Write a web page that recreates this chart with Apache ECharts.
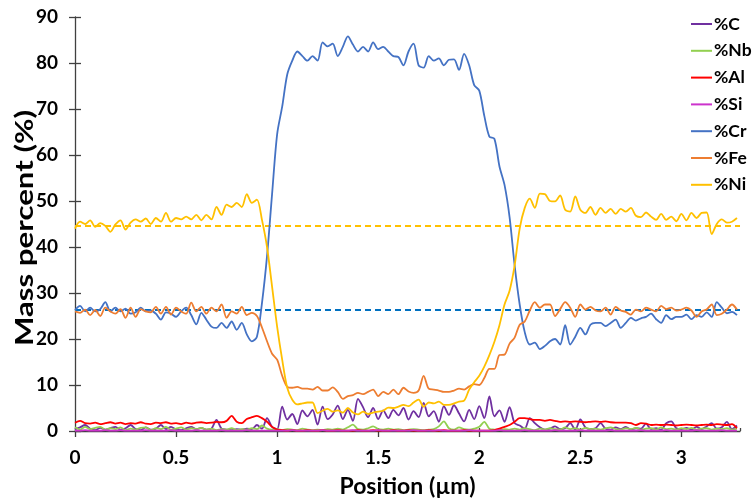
<!DOCTYPE html>
<html><head><meta charset="utf-8">
<script src="https://cdn.jsdelivr.net/npm/echarts@6/dist/echarts.min.js"></script>
<style>html,body{margin:0;padding:0;background:#fff}#c{width:752px;height:498px}</style>
</head><body><div id="c"></div>
<script>
const positions = [
0,0.025,0.05,0.075,0.1,0.125,0.15,0.175,
0.2,0.225,0.25,0.275,0.3,0.325,0.35,0.375,
0.4,0.425,0.45,0.475,0.5,0.525,0.55,0.575,
0.6,0.625,0.65,0.675,0.7,0.725,0.75,0.775,
0.8,0.825,0.85,0.875,0.9,0.925,0.95,0.975,
1.0,1.025,1.05,1.075,1.1,1.125,1.15,1.175,
1.2,1.225,1.25,1.275,1.3,1.325,1.35,1.375,
1.4,1.425,1.45,1.475,1.5,1.525,1.55,1.575,
1.6,1.625,1.65,1.675,1.7,1.725,1.75,1.775,
1.8,1.825,1.85,1.875,1.9,1.925,1.95,1.975,
2.0,2.025,2.05,2.075,2.1,2.125,2.15,2.175,
2.2,2.225,2.25,2.275,2.3,2.325,2.35,2.375,
2.4,2.425,2.45,2.475,2.5,2.525,2.55,2.575,
2.6,2.625,2.65,2.675,2.7,2.725,2.75,2.775,
2.8,2.825,2.85,2.875,2.9,2.925,2.95,2.975,
3.0,3.025,3.05,3.075,3.1,3.125,3.15,3.175,
3.2,3.225,3.25,3.275];

const pctC = [
0.4,0.8,1.3,0.5,0.2,0.7,0.3,0.6,
0.9,0.3,0.6,1.3,0.4,0.2,0.8,0.3,
0.5,1.3,0.4,0.9,0.3,0.2,0.6,0.9,
0.4,0.7,0.3,0.5,2.4,0.5,0.3,0.2,
0.4,0.3,0.5,0.4,1.3,0.5,2.8,0.9,
0.4,5.3,2.5,3.7,1.5,4.5,3.2,4.6,
1.4,5.3,2.6,3.6,5.5,2.6,4.6,2.2,
7.0,5.2,3.0,5.0,2.6,4.5,2.8,4.6,
3.4,5.0,2.5,4.3,3.0,6.1,3.2,4.3,
2.0,5.4,3.5,5.6,3.8,2.1,4.6,2.6,
5.4,2.8,7.5,3.2,4.5,2.0,5.2,1.7,
1.2,0.5,2.8,1.7,0.8,0.3,0.5,1.0,
0.4,0.6,1.7,0.3,2.5,0.8,0.4,0.6,
1.7,0.5,0.3,0.8,0.4,0.9,0.3,0.6,
0.5,1.6,0.4,0.6,0.3,1.7,2.1,0.6,
0.4,0.7,0.3,0.9,0.4,1.0,1.7,0.5,
0.8,2.0,0.4,1.2];

const pctNb = [
0.8,0.3,0.9,0.4,0.7,0.9,0.3,0.6,
0.4,0.8,0.2,0.5,0.3,0.7,0.8,0.2,
0.6,0.4,0.9,0.3,0.5,0.8,0.3,0.6,
0.4,0.7,0.3,0.5,0.2,0.4,0.3,0.6,
0.2,0.4,0.3,0.6,0.4,1.2,0.5,0.3,
0.4,0.2,0.4,0.3,0.2,0.5,0.3,0.2,
0.3,0.2,0.4,0.3,0.5,0.3,0.8,1.4,
0.4,0.3,0.6,1.0,0.4,0.3,0.5,0.3,
0.4,0.2,0.3,0.4,0.3,0.2,0.3,0.4,
1.0,2.1,0.6,0.3,0.8,0.4,0.3,0.5,
0.9,2.0,0.5,0.3,0.2,0.4,0.3,0.5,
0.3,0.6,0.4,0.2,0.5,0.3,0.6,0.4,
0.3,0.8,0.4,0.6,0.3,0.7,0.4,0.5,
0.3,0.6,0.8,0.4,0.3,0.6,0.4,0.7,
0.3,0.5,0.6,0.3,0.8,0.4,0.5,0.3,
0.6,0.4,0.7,0.3,0.5,0.6,0.3,0.5,
0.4,0.6,0.3,0.5];

const pctAl = [
1.8,2.2,1.7,1.6,1.8,1.5,1.7,1.9,
1.6,1.8,1.5,1.7,1.6,1.9,1.6,1.5,
1.8,1.7,1.9,1.6,1.7,1.5,1.8,1.6,
1.8,1.9,1.7,1.8,2.0,1.9,2.2,3.3,
2.0,1.7,2.6,3.0,3.3,2.8,2.0,0.9,
0.3,0.2,0.1,0.2,0.1,0.1,0.2,0.1,
0.1,0.2,0.1,0.1,0.2,0.1,0.1,0.1,
0.2,0.1,0.1,0.2,0.1,0.1,0.1,0.2,
0.1,0.1,0.2,0.1,0.1,0.1,0.2,0.1,
0.1,0.2,0.1,0.1,0.1,0.2,0.1,0.1,
0.1,0.1,0.1,0.2,0.5,0.9,1.3,2.0,
2.8,2.8,2.6,2.4,2.4,2.2,2.4,2.2,
2.0,2.1,2.0,2.1,2.0,1.9,2.0,2.1,
2.0,2.1,1.9,1.8,1.8,1.8,1.7,1.3,
1.7,1.6,1.3,1.4,1.3,1.4,1.3,1.2,
1.3,1.4,1.3,1.2,1.3,1.4,1.3,1.5,
1.4,1.3,1.5,0.6];

const pctSi = [
0.1,0.1,0.2,0.1,0.1,0.1,0.2,0.1,
0.1,0.2,0.1,0.1,0.1,0.1,0.2,0.1,
0.1,0.1,0.1,0.2,0.1,0.1,0.1,0.1,
0.2,0.1,0.1,0.1,0.1,0.2,0.1,0.1,
0.1,0.1,0.2,0.1,0.1,0.1,0.1,0.1,
0.1,0.1,0.1,0.2,0.1,0.1,0.1,0.1,
0.1,0.2,0.1,0.1,0.1,0.1,0.1,0.2,
0.1,0.1,0.1,0.1,0.2,0.1,0.1,0.1,
0.1,0.1,0.1,0.2,0.1,0.1,0.1,0.1,
0.2,0.1,0.1,0.1,0.1,0.1,0.2,0.1,
0.1,0.1,0.1,0.1,0.2,0.1,0.1,0.1,
0.1,0.2,0.1,0.1,0.1,0.1,0.1,0.2,
0.1,0.1,0.1,0.1,0.2,0.1,0.1,0.1,
0.1,0.1,0.2,0.1,0.1,0.1,0.1,0.1,
0.2,0.1,0.1,0.1,0.1,0.2,0.1,0.1,
0.1,0.1,0.1,0.2,0.1,0.1,0.1,0.1,
0.2,0.1,0.1,0.1];

const pctCr = [
26.3,27.2,26.0,26.8,26.0,26.5,28.0,26.0,
26.8,26.0,26.6,25.5,25.8,26.8,26.0,26.2,
25.5,24.2,25.8,25.5,24.8,26.0,26.8,25.2,
23.2,25.7,24.2,22.7,22.4,23.5,22.4,23.8,
22.0,23.5,21.0,19.5,20.5,27.8,38.0,51.5,
64.5,70.5,77.5,80.5,82.5,81.5,80.5,81.5,
80.5,84.5,83.6,84.2,81.5,83.5,85.8,84.0,
82.5,83.5,82.5,84.5,83.0,83.5,82.5,81.5,
81.3,79.5,82.5,84.2,79.5,79.0,81.5,80.5,
81.0,79.5,80.7,80.8,78.5,82.0,79.5,75.2,
74.0,68.5,64.0,63.5,57.5,53.5,46.5,36.0,
27.5,21.5,18.8,19.2,17.8,18.5,19.5,20.0,
18.8,23.0,18.8,20.5,22.4,21.0,23.1,23.5,
23.5,22.8,23.5,24.2,22.4,23.5,24.6,24.0,
24.5,24.8,25.5,24.3,23.5,25.2,24.3,24.8,
24.8,25.3,24.3,25.2,24.8,25.8,24.8,28.0,
26.8,25.6,25.9,25.2];

const pctFe = [
26.0,25.7,26.4,25.2,26.3,25.0,26.8,26.0,
25.5,26.5,24.6,26.8,24.8,26.5,26.0,25.8,
27.0,25.5,27.0,25.3,26.8,26.0,25.5,27.9,
26.0,27.0,25.5,26.8,26.0,27.5,24.6,26.0,
25.5,27.0,25.2,25.7,25.0,22.5,19.5,16.8,
15.5,12.0,9.6,9.4,9.6,9.2,9.2,9.0,
9.6,8.8,8.8,9.5,8.5,7.0,7.6,7.8,
8.3,8.0,8.5,9.0,7.6,8.5,8.0,9.0,
8.0,9.4,8.6,8.3,8.8,12.0,9.2,9.0,
8.8,8.5,8.5,8.8,9.2,9.0,9.7,10.2,
10.0,11.5,13.5,13.5,16.5,16.6,19.0,20.3,
23.1,23.8,26.2,28.0,26.8,27.5,27.5,25.0,
26.5,28.0,26.8,24.8,27.5,26.4,27.0,26.2,
26.0,26.8,25.3,27.0,26.2,25.9,25.3,26.4,
26.0,26.8,26.4,26.0,27.2,26.5,26.8,26.2,
26.4,26.8,26.2,24.8,26.0,26.4,27.5,25.2,
25.5,26.4,27.5,26.4];

const pctNi = [
44.0,45.5,45.0,45.8,44.4,45.2,44.6,43.3,
44.9,45.8,43.8,45.3,46.0,45.5,46.2,45.0,
46.3,45.5,47.4,45.5,46.3,46.0,46.6,46.0,
47.0,45.8,47.0,46.0,48.7,47.0,49.2,48.7,
49.6,48.7,51.5,49.6,50.3,45.9,40.0,31.4,
22.7,15.5,9.4,6.8,5.8,6.0,6.2,6.2,
3.9,4.4,4.8,4.2,4.5,4.0,5.0,4.0,
3.6,4.2,3.7,4.0,4.2,4.4,5.1,5.0,
5.3,5.7,5.4,6.2,6.8,5.3,6.2,6.0,
6.4,5.7,5.7,6.0,6.4,6.6,9.0,10.6,
12.0,14.0,16.5,19.4,23.0,27.5,30.5,36.0,
44.0,48.5,50.5,48.5,51.6,51.5,50.0,49.9,
51.2,48.1,47.7,51.0,48.1,47.4,48.7,47.0,
48.5,47.4,48.3,47.2,48.3,47.7,48.5,46.8,
46.5,47.5,46.6,45.9,47.2,45.9,46.6,45.6,
47.2,45.8,47.4,46.3,47.4,47.5,42.8,45.0,
46.0,45.3,45.5,46.3];

const seriesNames = ['%C','%Nb','%Al','%Si','%Cr','%Fe','%Ni'];
const seriesColors = ['#7030A0','#92D050','#FF0000','#CC33CC','#4472C4','#ED7D31','#FFC000'];
const seriesValues = [pctC,pctNb,pctAl,pctSi,pctCr,pctFe,pctNi];
const meanNi = 44.7;
const meanCr = 26.3;
const xTicks = [0,0.5,1,1.5,2,2.5,3];
const yTitle = 'Mass percent (%)';

const FONT = 'Lato';
const chart = echarts.init(document.getElementById('c'));

const series = seriesNames.map((n,i)=>({
  name:n, type:'line', xAxisIndex:0, yAxisIndex:0,
  data: positions.map((x,j)=>[x, seriesValues[i][j]]),
  showSymbol:false, smooth:0.3,
  lineStyle:{width:1.8,color:seriesColors[i]}, itemStyle:{color:seriesColors[i]},
  z: 2+i
}));
series[6].markLine = {silent:true, symbol:'none', label:{show:false},
  lineStyle:{color:'#FFC000',type:[6,4],width:1.8}, data:[{yAxis:meanNi}]};
series[4].markLine = {silent:true, symbol:'none', label:{show:false},
  lineStyle:{color:'#0070C0',type:[6,4],width:1.8}, data:[{yAxis:meanCr}]};

const ax = {color:'#404040', width:1.3};
chart.setOption({
  animation:false,
  grid:{left:75,right:12,top:17,bottom:67,outerBoundsMode:'none',containLabel:false},
  graphic:[{
    type:'text', x:25, y:228, rotation:Math.PI/2, scaleX:1.3,
    style:{text:yTitle, font:'bold 24px Lato', fill:'#000', align:'center', verticalAlign:'middle'}
  }],
  legend:{
    orient:'vertical', left:686, top:9, icon:'rect', itemWidth:21, itemHeight:2,
    itemGap:6.8, data:seriesNames,
    textStyle:{fontFamily:FONT,fontWeight:'bold',fontSize:17.5,color:'#000',lineHeight:20,padding:[0,0,0,-3]}
  },
  xAxis:[{
    type:'value', min:0, max:3.29, interval:0.5,
    name:'Position (µm)', nameLocation:'middle', nameGap:44,
    nameTextStyle:{fontFamily:FONT,fontWeight:'bold',fontSize:23,color:'#000'},
    axisLine:{lineStyle:ax}, splitLine:{show:false},
    axisTick:{length:6,lineStyle:ax},
    axisLabel:{margin:17,fontFamily:FONT,fontWeight:'bold',fontSize:19,color:'#000',
      formatter:v=>xTicks.includes(v)?String(v):'', showMaxLabel:false}
  },{
    type:'value', min:0, max:3.29, interval:0.5, position:'bottom',
    axisLine:{show:false}, axisLabel:{show:false}, splitLine:{show:false},
    axisTick:{inside:true,length:3,lineStyle:ax}
  }],
  yAxis:[{
    type:'value', min:0, max:90, interval:10,
    axisLine:{show:true,lineStyle:ax}, splitLine:{show:false},
    axisTick:{show:true,length:6,lineStyle:ax},
    axisLabel:{margin:17,fontFamily:FONT,fontWeight:'bold',fontSize:19,color:'#000'}
  },{
    type:'value', min:0, max:90, interval:10, position:'left',
    axisLine:{show:false}, axisLabel:{show:false}, splitLine:{show:false},
    axisTick:{show:true,inside:true,length:6,lineStyle:ax}
  }],
  series: series
});
</script></body></html>
